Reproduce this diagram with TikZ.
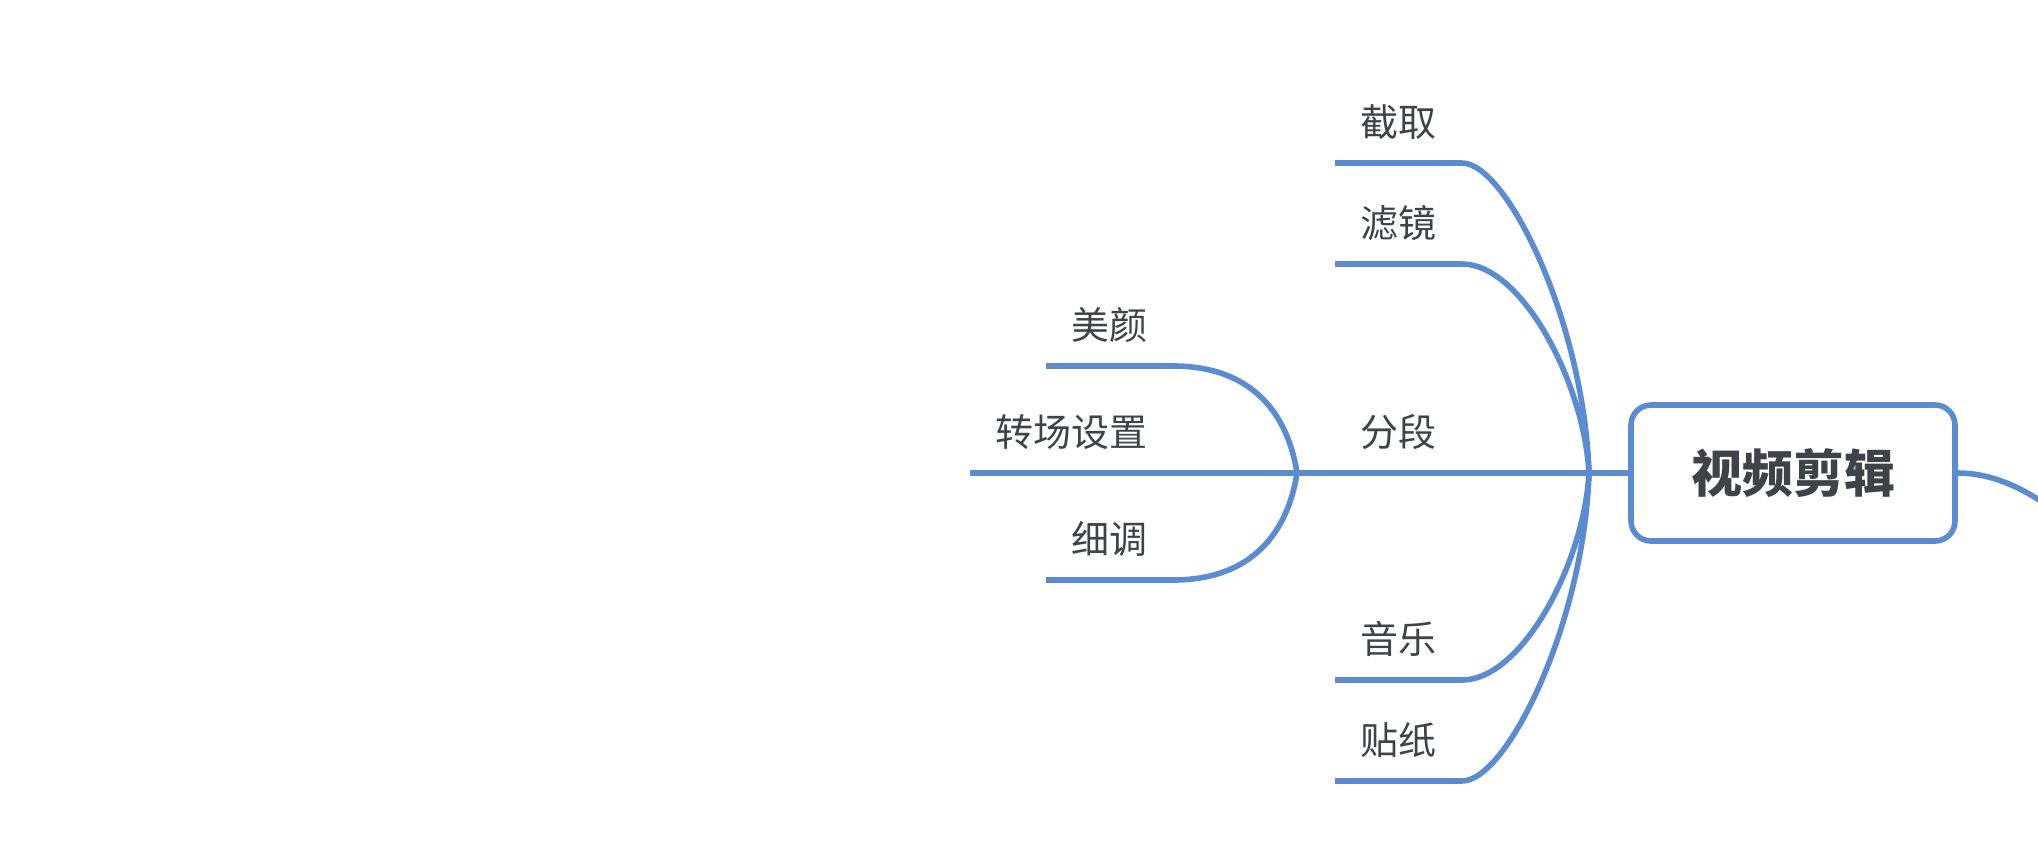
\documentclass[tikz,border=0pt]{standalone}
\usepackage{fontspec}
\newfontfamily\cjk{Noto Sans CJK SC}
\usetikzlibrary{positioning}
\definecolor{MapBlue}{HTML}{5B8CD1}
\definecolor{MapInk}{HTML}{3F4347}
\tikzset{
  % Central topic box
  topic/.style={
    rectangle, rounded corners=10pt,
    draw=MapBlue, line width=2.8pt, fill=white,
    minimum width=162pt, minimum height=68pt,
    font=\cjk\bfseries\fontsize{25.5}{30}\selectfont, text=MapInk
  },
  % Leaf label sitting on its own line
  leaf/.style={
    inner xsep=12.5pt, inner ysep=13pt, text depth=0pt,
    font=\cjk\fontsize{19}{22}\selectfont, text=MapInk
  },
  % Branch line
  branch/.style={draw=MapBlue, line width=2.8pt}
}

\begin{document}
\begin{tikzpicture}[x=0.5pt, y=-0.5pt]

  \clip (0,0) rectangle (2038,848);

  % Central topic
  \node[topic] (root) at (1793,473) {视频剪辑};
  \coordinate (fork) at (1589,473);
  \coordinate (offpage) at (2110,560);

  % First level leaves
  \node[leaf, anchor=south east] (jiequ)   at (1462,163) {截取};
  \node[leaf, anchor=south east] (lvjing)  at (1462,264) {滤镜};
  \node[leaf, anchor=south east] (fenduan) at (1462,473) {分段};
  \node[leaf, anchor=south east] (yinyue)  at (1462,680) {音乐};
  \node[leaf, anchor=south east] (tiezhi)  at (1462,781) {贴纸};

  % Second level leaves (under 分段)
  \coordinate (subfork) at (1297,473);
  \node[leaf, anchor=south east] (meiyan)     at (1173,366) {美颜};
  \node[leaf, anchor=south east] (zhuanchang) at (1173,473) {转场设置};
  \node[leaf, anchor=south east] (xitiao)     at (1173,580) {细调};

  % Underlines
  \foreach \n in {jiequ,lvjing,fenduan,yinyue,tiezhi,meiyan,zhuanchang,xitiao}{
    \draw[branch] (\n.south west) -- (\n.south east);
  }

  % Connectors
  \draw[branch] (root.west) -- (fork) -- (fenduan.south east);
  \foreach \n/\d/\a in {jiequ/-150/45, lvjing/-90/60, yinyue/90/60, tiezhi/150/45}{
    \draw[branch] (fork) .. controls +(-5,\d) and +(\a,0) .. (\n.south east);
  }
  \draw[branch] (fenduan.south west) -- (subfork) -- (zhuanchang.south east);
  \foreach \n/\d in {meiyan/-58, xitiao/58}{
    \draw[branch] (subfork) .. controls +(-9,\d) and +(80,0) .. (\n.south east);
  }
  \draw[branch] (root.east) .. controls +(60,0) and +(-40,-40) .. (offpage);

\end{tikzpicture}
\end{document}
